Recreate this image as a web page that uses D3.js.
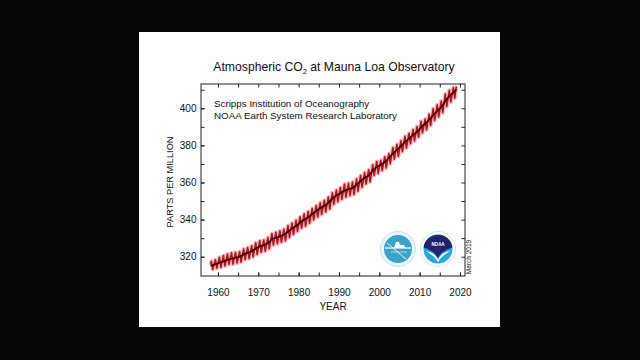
<!DOCTYPE html>
<html><head><meta charset="utf-8">
<script src="https://cdn.jsdelivr.net/npm/d3@7"></script>
<style>body{margin:0;background:#050505;} svg{display:block}</style>
</head><body><svg id="c" width="640" height="360"></svg>
<script>
const years = [1958,1959,1960,1961,1962,1963,1964,1965,1966,1967,1968,1969,1970,1971,1972,1973,1974,1975,1976,1977,1978,1979,1980,1981,1982,1983,1984,1985,1986,1987,1988,1989,1990,1991,1992,1993,1994,1995,1996,1997,1998,1999,2000,2001,2002,2003,2004,2005,2006,2007,2008,2009,2010,2011,2012,2013,2014,2015,2016,2017,2018];
const annualMean = [315.3,316.0,316.9,317.6,318.5,319.0,319.6,320.0,321.4,322.2,323.1,324.6,325.7,326.3,327.5,329.7,330.2,331.1,332.0,333.8,335.4,336.8,338.8,340.1,341.5,343.2,344.9,346.4,347.6,349.3,351.7,353.2,354.5,355.7,356.5,357.2,359.0,361.0,362.7,363.9,366.8,368.5,369.7,371.3,373.5,376.0,377.7,380.0,382.1,384.0,385.8,387.6,390.1,391.9,394.1,396.7,398.8,401.0,404.4,406.8,408.7];
const mayPeak = [317.5,318.3,319.7,320.6,321.4,322.1,322.3,322.7,324.1,324.9,325.9,327.5,328.6,329.0,330.3,332.5,333.1,333.9,334.8,336.8,338.1,339.6,341.5,343.1,344.3,346.0,347.6,349.1,350.4,352.1,354.4,355.9,357.3,359.1,359.6,360.2,361.9,363.7,365.4,366.8,369.5,371.3,371.9,373.9,375.6,378.8,380.6,382.5,384.9,386.5,388.5,390.2,393.0,394.2,396.8,399.8,401.9,403.9,407.7,409.7,411.2];
const sepLow = [313.2,313.8,314.2,315.0,315.9,316.0,316.6,317.1,318.5,319.0,319.9,321.2,322.4,323.0,324.3,326.3,327.0,327.8,328.6,330.4,332.0,333.6,335.4,336.5,338.0,339.8,341.4,342.8,344.1,345.7,348.2,349.6,350.9,352.1,352.9,353.6,355.3,357.4,359.2,360.3,363.8,364.9,366.5,367.9,370.2,372.6,374.1,376.6,378.6,380.9,382.4,384.4,386.8,388.4,390.8,393.5,395.4,397.6,401.0,403.4,405.5];
const firstMonthYear = 1958.2, firstMonthValue = 315.7;
const lastMonthYears = [2019.04, 2019.12];
const lastMonthValues = [410.8, 411.8];
const trendEndYear = 2019.1, trendEndValue = 410.1;
const xTicks = [1960,1970,1980,1990,2000,2010,2020];
const xMinor = [1960,1965,1970,1975,1980,1985,1990,1995,2000,2005,2010,2015,2020];
const yTicks = [320,340,360,380,400];
const yMinor = [320,330,340,350,360,370,380,390,400,410];

const svg = d3.select('#c');
const FONT = "'Liberation Sans', Arial, Helvetica, sans-serif";
// white panel
svg.append('rect').attr('x',139).attr('y',32).attr('width',361).attr('height',295).attr('fill','#fdfdfd');

const L=201, R=465, T=84, B=276;
const x = d3.scaleLinear().domain([1955.8, 2021.25]).range([L,R]);
const y = d3.scaleLinear().domain([309.6, 413.1]).range([B,T]);

// monthly series (peak / trough each year)
const red = [[firstMonthYear, firstMonthValue]];
years.forEach((yr,i)=>{ red.push([yr+0.37, mayPeak[i]]); red.push([yr+0.72, sepLow[i]]); });
lastMonthYears.forEach((yr,i)=>red.push([yr,lastMonthValues[i]]));
const trend = years.map((yr,i)=>[yr+0.5, annualMean[i]]);
trend.unshift([firstMonthYear, annualMean[0]-0.2]);
trend.push([trendEndYear, trendEndValue]);

const line = d3.line().x(d=>x(d[0])).y(d=>y(d[1]));
svg.append('path').attr('d',line(red)).attr('fill','none').attr('stroke','#eea4a8').attr('stroke-width',4.2).attr('stroke-linejoin','round').attr('opacity',0.75);
svg.append('path').attr('d',line(red)).attr('fill','none').attr('stroke','#b3141f').attr('stroke-width',1.6).attr('stroke-linejoin','round');
svg.append('path').attr('d',line(trend)).attr('fill','none').attr('stroke','#2a0406').attr('stroke-width',1.6).attr('stroke-linejoin','round');

// frame
svg.append('rect').attr('x',L).attr('y',T).attr('width',R-L).attr('height',B-T).attr('fill','none').attr('stroke','#222').attr('stroke-width',1);

function styleAxis(g){ g.select('.domain').remove(); g.selectAll('line').attr('stroke','#222'); g.selectAll('text').attr('font-family',FONT).attr('font-size',10).attr('fill','#111'); }
const tk=3.5;
svg.append('g').attr('transform',`translate(0,${B})`).call(d3.axisBottom(x).tickValues(xTicks).tickFormat(d3.format('d')).tickSize(-tk).tickPadding(12.5)).call(styleAxis);
svg.append('g').attr('transform',`translate(0,${B})`).call(d3.axisBottom(x).tickValues(xMinor).tickFormat('').tickSize(-tk)).call(styleAxis);
svg.append('g').attr('transform',`translate(0,${T})`).call(d3.axisTop(x).tickValues(xMinor).tickFormat('').tickSize(-tk)).call(styleAxis);
svg.append('g').attr('transform',`translate(${L},0)`).call(d3.axisLeft(y).tickValues(yTicks).tickFormat(d3.format('d')).tickSize(-tk).tickPadding(4.5)).call(styleAxis);
svg.append('g').attr('transform',`translate(${L},0)`).call(d3.axisLeft(y).tickValues(yMinor).tickFormat('').tickSize(-tk)).call(styleAxis);
svg.append('g').attr('transform',`translate(${R},0)`).call(d3.axisRight(y).tickValues(yMinor).tickFormat('').tickSize(-tk)).call(styleAxis);

// titles
const title = svg.append('text').attr('x',334).attr('y',71).attr('text-anchor','middle').attr('font-family',FONT).attr('font-size',12.2).attr('fill','#111');
title.append('tspan').text('Atmospheric CO');
title.append('tspan').attr('font-size',7.5).attr('dy',3).text('2');
title.append('tspan').attr('dy',-3).text(' at Mauna Loa Observatory');
svg.append('text').attr('x',214).attr('y',107).attr('font-family',FONT).attr('font-size',9.8).attr('fill','#111').text('Scripps Institution of Oceanography');
svg.append('text').attr('x',214).attr('y',119).attr('font-family',FONT).attr('font-size',9.8).attr('fill','#111').text('NOAA Earth System Research Laboratory');
svg.append('text').attr('x',333).attr('y',310).attr('text-anchor','middle').attr('font-family',FONT).attr('font-size',10).attr('fill','#111').text('YEAR');
svg.append('text').attr('transform','translate(173,182) rotate(-90)').attr('text-anchor','middle').attr('font-family',FONT).attr('font-size',9.5).attr('textLength',91).attr('lengthAdjust','spacingAndGlyphs').attr('fill','#111').text('PARTS PER MILLION');
svg.append('text').attr('transform','translate(471,257) rotate(-90)').attr('text-anchor','middle').attr('font-family',FONT).attr('font-size',6.5).attr('fill','#111').text('March 2019');

// Scripps logo
const s = svg.append('g').attr('transform','translate(398,249)');
s.append('circle').attr('r',17.5).attr('fill','#eaf5f9').attr('stroke','#c3e2ee').attr('stroke-width',1);
s.append('circle').attr('r',14).attr('fill','#3aa3c9');
s.append('path').attr('d','M-13,-1 L13,-1').attr('stroke','#fff').attr('stroke-width',1.2);
s.append('path').attr('d','M-11,-6 L8,10').attr('stroke','#fff').attr('stroke-width',0.9);
s.append('path').attr('d','M-4,-1 L-2,-7 L1,-7 L2,-4 L6,-4 L7,-1 Z').attr('fill','#fff');
s.append('path').attr('d','M-7,3 L9,3').attr('stroke','#d8f0f8').attr('stroke-width',0.7);
// NOAA logo
const n = svg.append('g').attr('transform','translate(438,249)');
n.append('circle').attr('r',17.5).attr('fill','#fff').attr('stroke','#cfe6f0').attr('stroke-width',1);
n.append('circle').attr('r',14.5).attr('fill','#2aa6d8');
n.append('path').attr('d','M-14.4,-1.5 A14.5,14.5 0 0 1 14.4,-1.5 C8,1 3,3 0,9 C-3,3 -8,1 -14.4,-1.5 Z').attr('fill','#24226e');
n.append('path').attr('d','M-12,2 C-6,3 -2,6 0,11 C2,6 6,3 12,2 C7,5 3,8 0,13 C-3,8 -7,5 -12,2 Z').attr('fill','#fff');
n.append('text').attr('x',0).attr('y',-3).attr('text-anchor','middle').attr('font-family',FONT).attr('font-size',4.5).attr('font-weight','bold').attr('fill','#fff').text('NOAA');
</script></body></html>
